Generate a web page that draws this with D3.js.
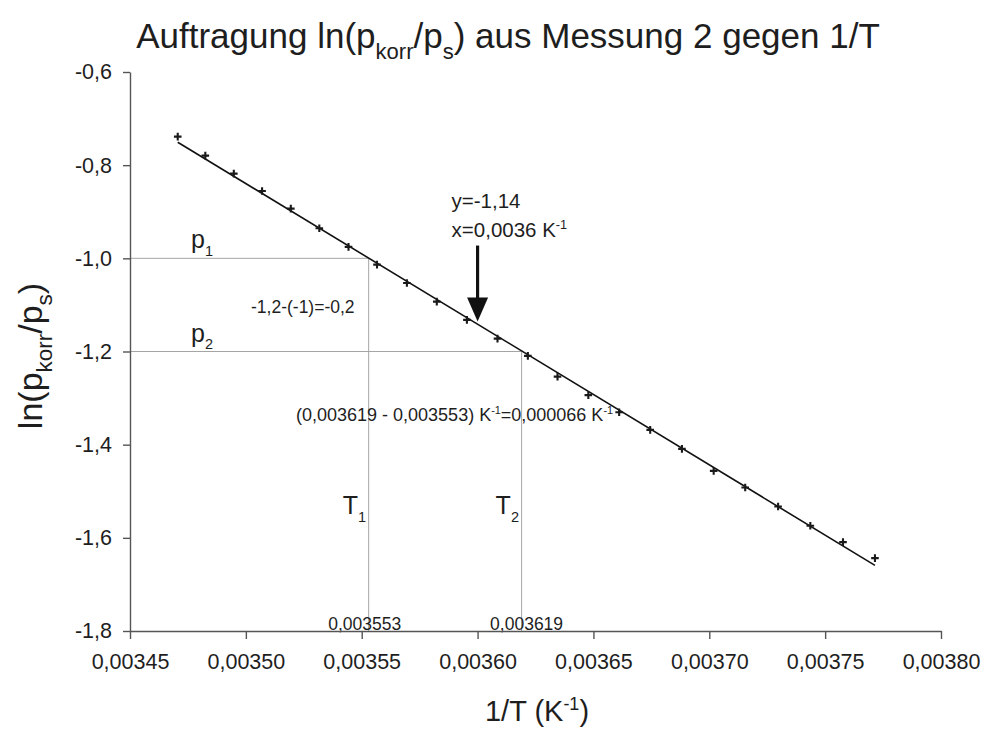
<!DOCTYPE html>
<html>
<head>
<meta charset="utf-8">
<script src="https://cdn.jsdelivr.net/npm/d3@7"></script>
<style>
    body { margin: 0; background: #fff; }
    text { font-family: "Liberation Sans", Arial, sans-serif; fill: #1e1e1e; }
</style>
</head>
<body>
<div id="chart"></div>
<script>
// measured values, 1/T in K^-1 and ln(p_korr/p_s)
const invT = [0.0034706, 0.0034825, 0.0034948, 0.0035070, 0.0035194, 0.0035317,
    0.0035443, 0.0035566, 0.0035695, 0.0035824, 0.0035954, 0.0036086,
    0.0036217, 0.0036345, 0.0036478, 0.0036611, 0.0036745, 0.0036882,
    0.0037019, 0.0037155, 0.0037297, 0.0037436, 0.0037577, 0.0037715];
const lnRatio = [-0.7388, -0.7796, -0.8182, -0.8554, -0.8933, -0.9354,
    -0.9755, -1.0135, -1.0528, -1.0929, -1.1322, -1.1723,
    -1.2094, -1.2539, -1.2936, -1.3303, -1.3682, -1.4090,
    -1.4562, -1.4921, -1.5328, -1.5742, -1.6092, -1.6436];

// linear fit as drawn in the chart
const fitSlope = -3019,
    fitIntercept = 9.727;

const xTicks = [0.00345, 0.00350, 0.00355, 0.00360, 0.00365, 0.00370, 0.00375, 0.00380];
const yTicks = [-0.6, -0.8, -1.0, -1.2, -1.4, -1.6, -1.8];

// read-off helper lines
const pLevels = [-1.0, -1.2];
const pNames = ["1", "2"];
const tLevels = [0.003553, 0.003619];
const tNames = ["1", "2"];
const tLabels = ["0,003553", "0,003619"];
const arrowPoint = {x: 0.0036, y: -1.14};

let margin = {top: 72, left: 130, right: 45, bottom: 102},
    width = 986 - margin.left - margin.right,
    height = 733 - margin.top - margin.bottom;

let svg = d3.select('#chart').append('svg')
    .attr('width', 986)
    .attr('height', 733);

let g = svg.append('g').attr('transform', `translate(${margin.left},${margin.top})`);

let x = d3.scaleLinear().domain([0.00345, 0.00380]).range([0, width]),
    y = d3.scaleLinear().domain([-0.6, -1.8]).range([0, height]);

// german decimal comma, plain hyphen as minus
let comma = s => s.replace('.', ',').replace('\u2212', '-');

// text with sub- and superscripts, parts = [[text, 'n'|'sub'|'sup'], ...]
function richText(sel, parts, fs, small) {
    let offset = 0;
    parts.forEach(([t, kind]) => {
        let target = kind === 'sub' ? fs * 0.3 : kind === 'sup' ? -fs * 0.38 : 0;
        sel.append('tspan')
            .attr('dy', target - offset)
            .attr('font-size', kind === 'n' ? fs : fs * small)
            .text(t);
        offset = target;
    });
    return sel;
}

// helper lines for p1, p2, T1, T2
pLevels.forEach((p, i) => {
    g.append('line')
        .attr('x1', 0).attr('x2', x(tLevels[i]))
        .attr('y1', y(p)).attr('y2', y(p))
        .attr('stroke', '#a5a5a5').attr('stroke-width', 1);
    g.append('line')
        .attr('x1', x(tLevels[i])).attr('x2', x(tLevels[i]))
        .attr('y1', y(p)).attr('y2', height)
        .attr('stroke', '#a5a5a5').attr('stroke-width', 1);
    richText(g.append('text').attr('x', 61).attr('y', y(p) - 10), [["p", 'n'], [pNames[i], 'sub']], 25, 0.58);
});

tLevels.forEach((t, i) => {
    richText(g.append('text').attr('x', x(t) - 26).attr('y', 442), [["T", 'n'], [tNames[i], 'sub']], 25, 0.58);
    g.append('text')
        .attr('x', x(t) + (i === 0 ? -4 : 5))
        .attr('y', height - 1)
        .attr('text-anchor', 'middle')
        .attr('font-size', 17.5)
        .text(tLabels[i]);
});

g.append('text')
    .attr('x', 121).attr('y', 241)
    .attr('font-size', 17.5)
    .text('-1,2-(-1)=-0,2');

richText(g.append('text').attr('x', 166).attr('y', 349),
    [["(0,003619 - 0,003553) K", 'n'], ["-1", 'sup'], ["=0,000066 K", 'n'], ["-1", 'sup']], 18, 0.6);

// axes
let xAxis = g.append('g')
    .attr('transform', `translate(0,${height})`)
    .call(d3.axisBottom(x).tickValues(xTicks).tickSize(8).tickSizeOuter(0).tickPadding(15)
        .tickFormat(d => comma(d3.format('.5f')(d))));

let yAxis = g.append('g')
    .call(d3.axisLeft(y).tickValues(yTicks).tickSize(7).tickSizeOuter(0).tickPadding(11)
        .tickFormat(d => comma(d3.format('.1f')(d))));

[xAxis, yAxis].forEach(a => {
    a.selectAll('path, line').attr('stroke', '#555').attr('stroke-width', 1.4);
    a.selectAll('text').attr('font-size', 21.5).attr('fill', '#1e1e1e')
        .style('font-family', '"Liberation Sans", Arial, sans-serif');
    a.attr('font-family', null);
});

// fit line
let xFirst = d3.min(invT), xLast = d3.max(invT);
g.append('line')
    .attr('x1', x(xFirst)).attr('y1', y(fitIntercept + fitSlope * xFirst))
    .attr('x2', x(xLast)).attr('y2', y(fitIntercept + fitSlope * xLast))
    .attr('stroke', '#111').attr('stroke-width', 1.6);

// data markers (+)
g.selectAll('.pt')
    .data(invT.map((v, i) => [v, lnRatio[i]]))
    .join('path')
    .attr('class', 'pt')
    .attr('transform', d => `translate(${x(d[0])},${y(d[1])})`)
    .attr('d', 'M-3.8,0H3.8M0,-3.8V3.8')
    .attr('stroke', '#1a1a1a')
    .attr('stroke-width', 2.1);

// arrow to the read-off point
let ax = x(arrowPoint.x), ay = y(arrowPoint.y) - 2;
g.append('line')
    .attr('x1', ax).attr('x2', ax)
    .attr('y1', ay - 76).attr('y2', ay - 20)
    .attr('stroke', '#111').attr('stroke-width', 3.2);
g.append('path')
    .attr('d', `M${ax - 10.5},${ay - 24}L${ax + 10.5},${ay - 24}L${ax},${ay}Z`)
    .attr('fill', '#111');

g.append('text')
    .attr('x', ax - 26).attr('y', ay - 114)
    .attr('font-size', 20.5)
    .text('y=-1,14');
richText(g.append('text').attr('x', ax - 26).attr('y', ay - 85),
    [["x=0,0036 K", 'n'], ["-1", 'sup']], 20.5, 0.62);

// title and axis labels
richText(svg.append('text').attr('x', 508).attr('y', 48).attr('text-anchor', 'middle'),
    [["Auftragung ln(p", 'n'], ["korr", 'sub'], ["/p", 'n'], ["s", 'sub'], [") aus Messung 2 gegen 1/T", 'n']], 35, 0.63);

richText(svg.append('text').attr('text-anchor', 'middle')
        .attr('transform', 'translate(42,356) rotate(-90)'),
    [["ln(p", 'n'], ["korr", 'sub'], ["/p", 'n'], ["s", 'sub'], [")", 'n']], 34, 0.66);

richText(svg.append('text').attr('x', 537).attr('y', 721).attr('text-anchor', 'middle'),
    [["1/T (K", 'n'], ["-1", 'sup'], [")", 'n']], 29, 0.62);
</script>
</body>
</html>
